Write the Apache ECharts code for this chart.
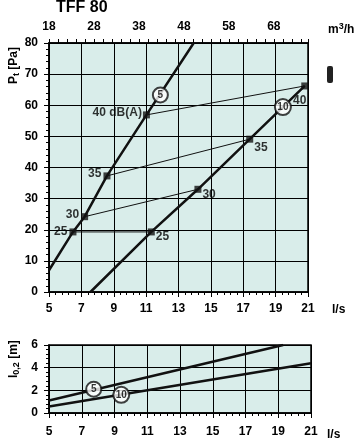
<!DOCTYPE html>
<html><head><meta charset="utf-8">
<script src="https://cdn.jsdelivr.net/npm/echarts@6/dist/echarts.min.js"></script>
<style>html,body{margin:0;padding:0;background:#fff}#c{width:357px;height:440px}</style>
</head><body><div id="c"></div>
<script>
// ---- data ----
const chartTitle = 'TFF 80';
const topTickLabels = [18, 28, 38, 48, 58, 68];           // m3/h
const fan5Flow = [5, 6.48, 7.2, 8.58, 11.02, 13.94];       // l/s
const fan5Pressure = [7.0, 19.3, 24.2, 37.3, 56.9, 80];    // Pa
const fan10Flow = [7.56, 11.32, 14.2, 17.4, 20.8];
const fan10Pressure = [0, 19.3, 33, 49.1, 66.2];
const noiseLevels = ['25', '30', '35', '40'];
const noiseFan5Flow = [6.48, 7.2, 8.58, 11.02];
const noiseFan5Pressure = [19.3, 24.2, 37.3, 56.9];
const noiseFan10Flow = [11.32, 14.2, 17.4, 20.8];
const noiseFan10Pressure = [19.3, 33, 49.1, 66.2];
const fanNames = ['5', '10'];
const fanNameFlow = [11.88, 19.45];
const fanNamePressure = [63.3, 59.4];
const throw5Flow = [5, 19.3];
const throw5Value = [1.1, 6.0];
const throw10Flow = [5, 21];
const throw10Value = [0.58, 4.39];
const throwNameFlow = [7.73, 9.41];
const throwNameValue = [2.1, 1.6];

// ---- styles ----
const FONT = '"Liberation Sans", Arial, sans-serif';
const BG = '#d9edea';
const zip = (a, b) => a.map((v, i) => [v, b[i]]);
const axisCommon = {
  axisLine: { show: true, onZero: false, lineStyle: { color: '#000', width: 1.5 } },
  axisTick: { show: true, length: 5, lineStyle: { color: '#000', width: 1 } },
  minorTick: { show: true, splitNumber: 5, length: 3, lineStyle: { color: '#000', width: 1 } },
  axisLabel: { color: '#000', fontWeight: 'bold', fontSize: 12, fontFamily: FONT },
  splitLine: { show: true, lineStyle: { color: '#000', width: 1 } }
};
function ax(extra) {
  const o = JSON.parse(JSON.stringify(axisCommon));
  for (const k in extra) {
    if (typeof extra[k] === 'object' && o[k]) Object.assign(o[k], extra[k]);
    else o[k] = extra[k];
  }
  return o;
}

const fan5Labels = noiseLevels.map((n, i) => ({
  value: [noiseFan5Flow[i], noiseFan5Pressure[i]],
  label: { formatter: i === 3 ? n + ' dB(A)' : n, position: 'left', distance: i === 3 ? 1 : 2, offset: [0, i === 0 ? 0 : -2] }
}));
const fan10Labels = noiseLevels.map((n, i) => ({
  value: [noiseFan10Flow[i], noiseFan10Pressure[i]],
  label: i === 3
    ? { formatter: n, position: 'bottom', distance: 5, offset: [-5, 0] }
    : { formatter: n, position: 'right', distance: 1, offset: [0, i === 2 ? 9 : 5] }
}));

const markerLabelStyle = { show: true, color: '#000', fontSize: 12, fontWeight: 'bold', fontFamily: FONT };

const series = [
  { type: 'line', xAxisIndex: 0, yAxisIndex: 0, data: zip(fan5Flow, fan5Pressure), symbol: 'none',
    lineStyle: { color: '#111', width: 2.5 }, z: 3 },
  { type: 'line', xAxisIndex: 0, yAxisIndex: 0, data: zip(fan10Flow, fan10Pressure), symbol: 'none',
    lineStyle: { color: '#111', width: 2.5 }, z: 3 }
];
noiseLevels.forEach((n, i) => {
  series.push({ type: 'line', xAxisIndex: 0, yAxisIndex: 0, symbol: 'none',
    data: [[noiseFan5Flow[i], noiseFan5Pressure[i]], [noiseFan10Flow[i], noiseFan10Pressure[i]]],
    lineStyle: { color: '#111', width: 1 }, z: 2 });
});
series.push({ type: 'scatter', xAxisIndex: 0, yAxisIndex: 0, symbol: 'rect', symbolSize: 7,
  itemStyle: { color: '#111' }, label: markerLabelStyle, data: fan5Labels, z: 4 });
series.push({ type: 'scatter', xAxisIndex: 0, yAxisIndex: 0, symbol: 'rect', symbolSize: 7,
  itemStyle: { color: '#111' }, label: markerLabelStyle, data: fan10Labels, z: 4 });
series.push({ type: 'scatter', xAxisIndex: 0, yAxisIndex: 0, symbol: 'circle',
  data: fanNames.map((n, i) => ({ name: n, value: [fanNameFlow[i], fanNamePressure[i]], symbolSize: i ? 16 : 15 })),
  itemStyle: { color: '#fff', borderColor: '#111', borderWidth: 2 },
  label: { show: true, position: 'inside', formatter: '{b}', color: '#000', fontWeight: 'bold', fontSize: 10, fontFamily: FONT }, z: 5 });
// throw chart
series.push({ type: 'line', xAxisIndex: 2, yAxisIndex: 1, data: zip(throw5Flow, throw5Value), symbol: 'none',
  lineStyle: { color: '#111', width: 2.5 }, z: 3 });
series.push({ type: 'line', xAxisIndex: 2, yAxisIndex: 1, data: zip(throw10Flow, throw10Value), symbol: 'none',
  lineStyle: { color: '#111', width: 2.5 }, z: 3 });
series.push({ type: 'scatter', xAxisIndex: 2, yAxisIndex: 1, symbol: 'circle',
  data: fanNames.map((n, i) => ({ name: n, value: [throwNameFlow[i], throwNameValue[i]], symbolSize: i ? 16 : 15 })),
  itemStyle: { color: '#fff', borderColor: '#111', borderWidth: 2 },
  label: { show: true, position: 'inside', formatter: '{b}', color: '#000', fontWeight: 'bold', fontSize: 10, fontFamily: FONT }, z: 5 });

const option = {
  animation: false,
  backgroundColor: '#fff',
  grid: [
    { left: 49, top: 43, width: 259, height: 249, show: true, backgroundColor: BG, borderColor: '#000', borderWidth: 1.5, containLabel: false },
    { left: 49, top: 345, width: 262, height: 68, show: true, backgroundColor: BG, borderColor: '#000', borderWidth: 1.5, containLabel: false }
  ],
  xAxis: [
    ax({ gridIndex: 0, type: 'value', min: 5, max: 21, interval: 2, position: 'bottom', axisLabel: { margin: 11 } }),
    ax({ gridIndex: 0, type: 'value', min: 18, max: 75.6, interval: 2, position: 'top',
      axisTick: { length: 4 }, minorTick: { show: false }, splitLine: { show: false },
      axisLabel: { margin: 10, formatter: v => (topTickLabels.indexOf(Math.round(v)) >= 0 && Math.abs(v - Math.round(v)) < 1e-6) ? String(Math.round(v)) : '' } }),
    ax({ gridIndex: 1, type: 'value', min: 5, max: 21, interval: 2, position: 'bottom', axisLabel: { margin: 13 } })
  ],
  yAxis: [
    ax({ gridIndex: 0, type: 'value', min: 0, max: 80, interval: 10, axisLabel: { margin: 11 } }),
    ax({ gridIndex: 1, type: 'value', min: 0, max: 6, interval: 2, axisLabel: { margin: 11 } })
  ],
  series: series,
  graphic: [
    { type: 'text', left: 56, top: 0, style: { text: chartTitle, fill: '#000', font: 'bold 16px ' + FONT } },
    { type: 'text', x: 328, y: 22, style: { text: 'm{s|3}/h', fill: '#000', font: 'bold 12px ' + FONT,
        rich: { s: { fontSize: 9, fontWeight: 'bold', verticalAlign: 'top', padding: [0, 0, 6, 0], fontFamily: FONT } } } },
    { type: 'text', x: 332, y: 304, style: { text: 'l/s', fill: '#000', font: 'bold 12px ' + FONT } },
    { type: 'text', x: 327, y: 429, style: { text: 'l/s', fill: '#000', font: 'bold 12px ' + FONT } },
    { type: 'text', x: 6, y: 84, rotation: Math.PI / 2, style: { text: 'P{s|t} [Pa]', fill: '#000', font: 'bold 12px ' + FONT,
        rich: { s: { fontSize: 9, fontWeight: 'bold', padding: [6, 0, 0, 0], fontFamily: FONT } } } },
    { type: 'text', x: 6, y: 378, rotation: Math.PI / 2, style: { text: 'l{s|0,2} [m]', fill: '#000', font: 'bold 12px ' + FONT,
        rich: { s: { fontSize: 9, fontWeight: 'bold', padding: [6, 0, 0, 0], fontFamily: FONT } } } },
    { type: 'rect', shape: { x: 327, y: 66, width: 6, height: 17, r: 2 }, style: { fill: '#222' } }
  ]
};
const chart = echarts.init(document.getElementById('c'), null, { renderer: 'canvas' });
chart.setOption(option);
</script>
</body></html>
